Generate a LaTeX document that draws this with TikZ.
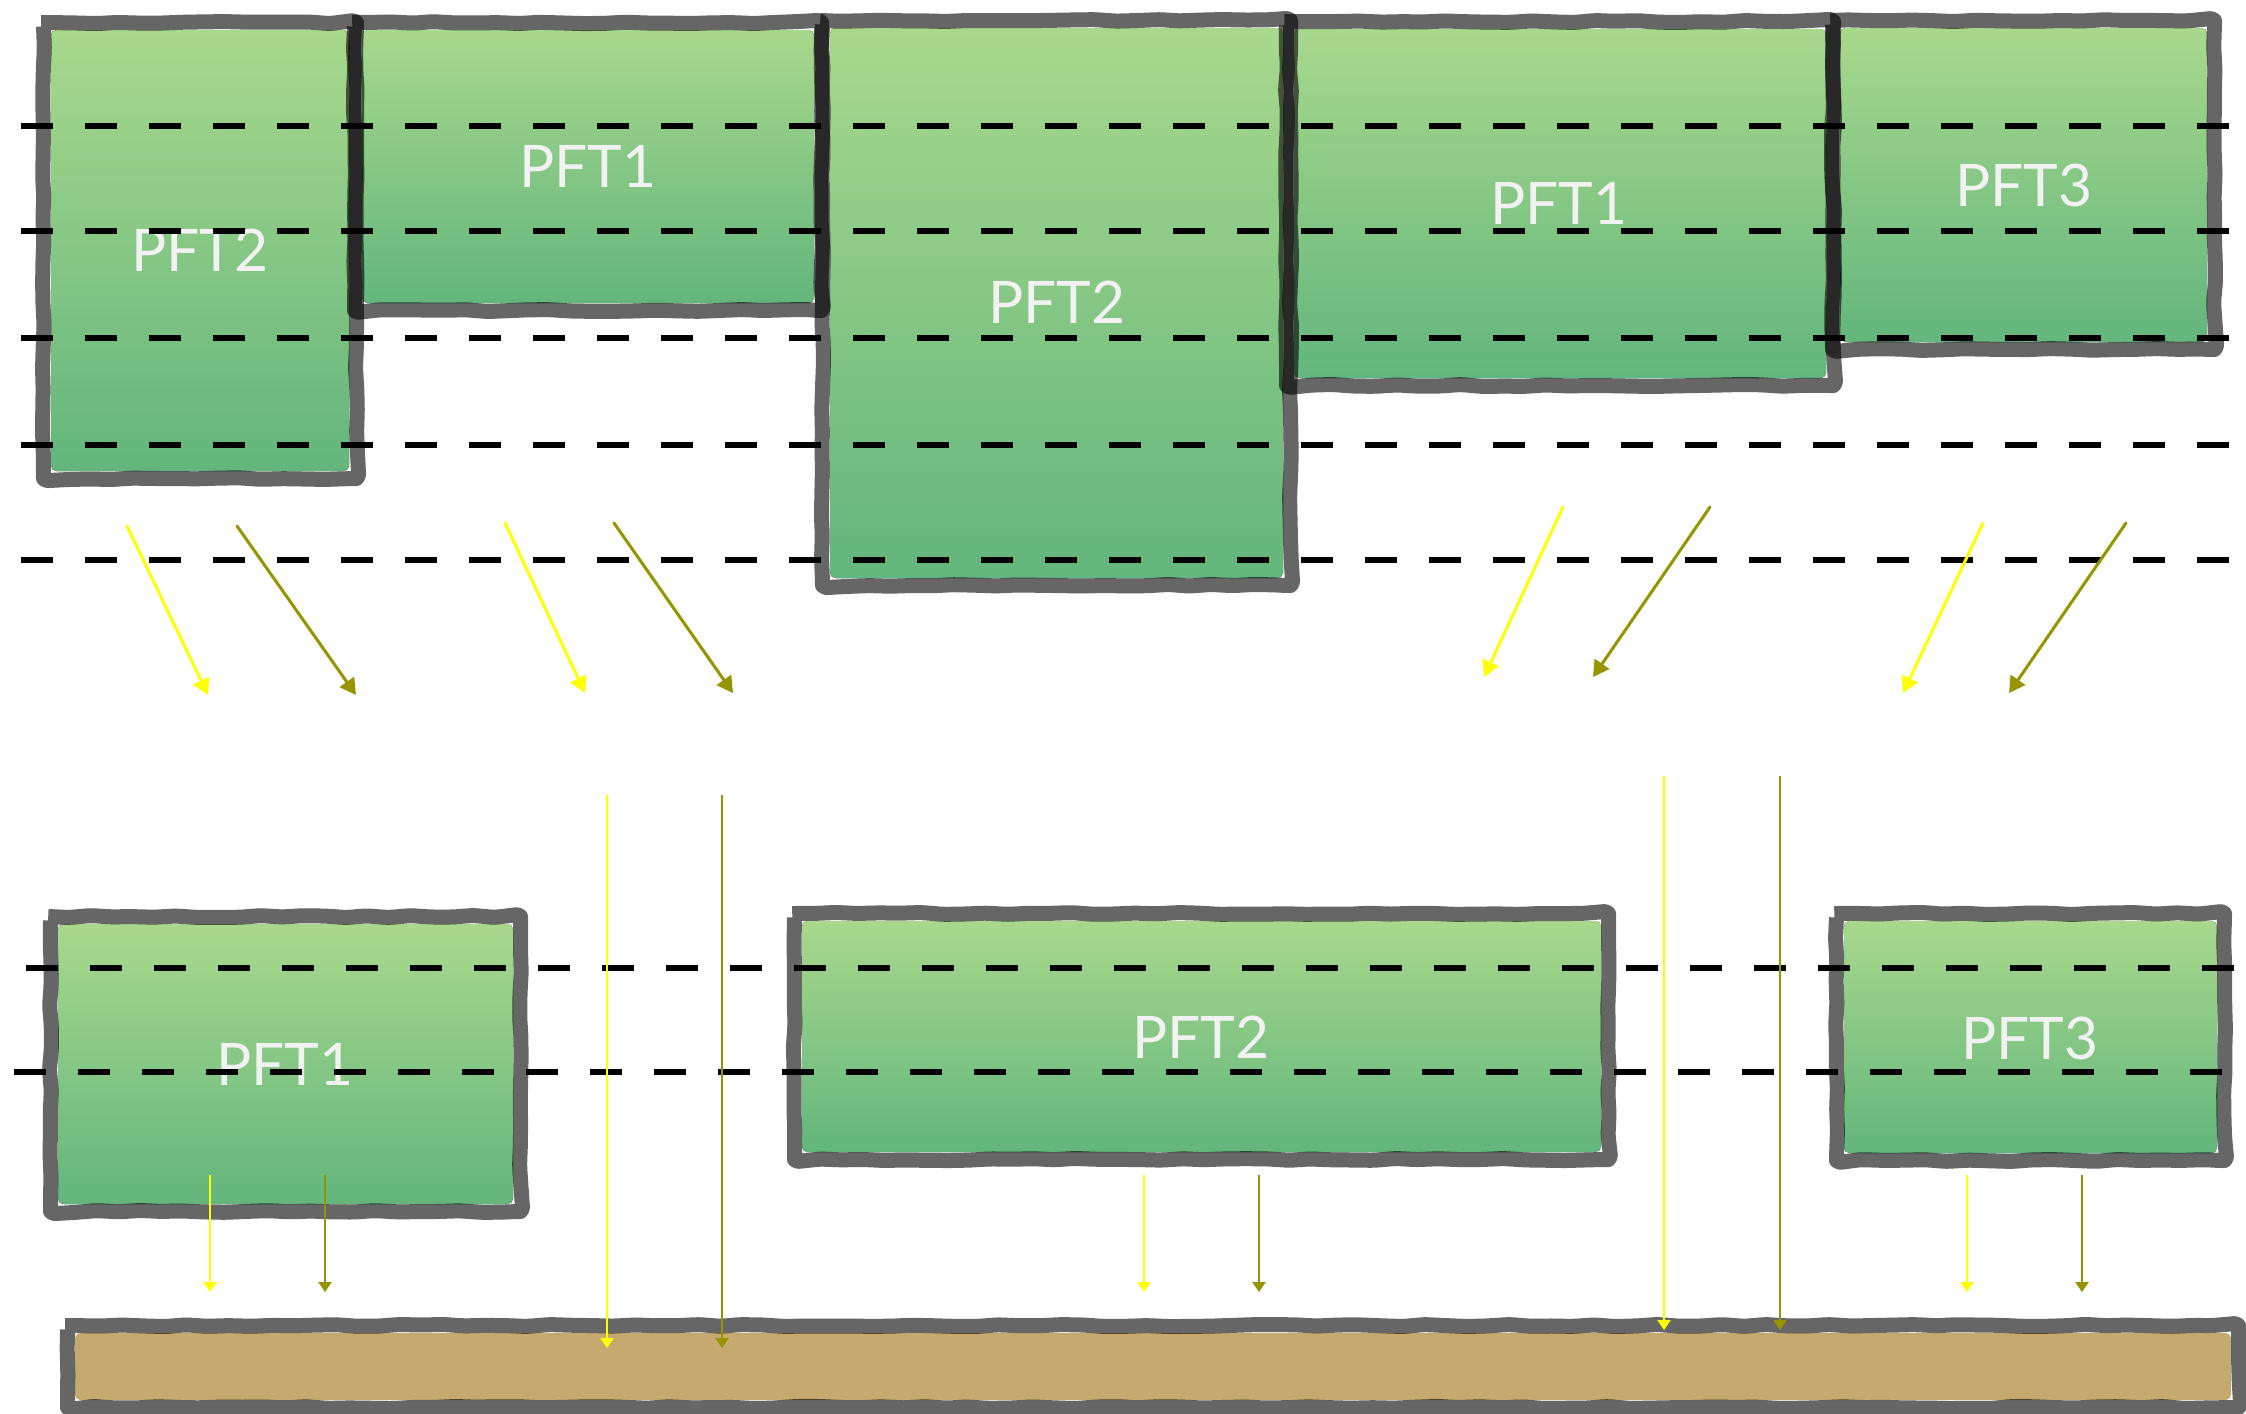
\documentclass[tikz,border=0pt]{standalone}
\usepackage{fontspec}
\usetikzlibrary{arrows.meta,decorations.pathmorphing}
\newfontfamily\pftsans{Lato}
\tikzset{every picture/.style={line width=0.75pt}}
\definecolor{leaftop}{RGB}{168,216,140}
\definecolor{leafbot}{RGB}{99,182,125}
\definecolor{soilfill}{RGB}{197,169,110}
\definecolor{lightray}{RGB}{255,255,0}
\definecolor{darkray}{RGB}{150,148,0}
\definecolor{pftwhite}{RGB}{242,242,242}

\begin{document}
\begin{tikzpicture}[x=0.75pt,y=0.75pt,yscale=-1,xscale=1,
  leaf/.style={top color=leaftop,bottom color=leafbot,draw=none,rounded corners=4pt},
  soil/.style={fill=soilfill,draw=none,rounded corners=4pt},
  rim/.style={draw=black,draw opacity=0.6,line width=11.25pt,line join=round,
    decorate,decoration={random steps,segment length=16pt,amplitude=0.8pt},rounded corners=3pt},
  pftlabel/.style={text=pftwhite,inner sep=0pt,font=\pftsans\fontsize{44}{50}\selectfont},
  layerline/.style={line width=4.2pt,dash pattern=on 24pt off 24pt},
  slantray/.style={line width=2.25pt,line cap=round,-{Triangle[length=12pt,width=13pt]}},
  dropray/.style={line width=1.1pt,-{Triangle[length=7.5pt,width=10pt]}}]
\pgfmathsetseed{4}
\useasboundingbox (0,0) rectangle (2246,1414);
\fill[white] (0,0) rectangle (2246,1414);

%Shape: Rectangle fills, upper canopy
\fill [leaf] (51,30) rectangle (349,471) ;
\fill [leaf] (362,30) rectangle (814,303) ;
\fill [leaf] (830,28) rectangle (1283,578) ;
\fill [leaf] (1294,29) rectangle (1826,378) ;
\fill [leaf] (1840,28) rectangle (2207,342) ;
%Shape: Rectangle fills, lower canopy
\fill [leaf] (58,924) rectangle (513,1204) ;
\fill [leaf] (802,921) rectangle (1601,1152) ;
\fill [leaf] (1844,921) rectangle (2217,1153) ;
%Shape: Rectangle, ground
\fill [soil] (75,1333) rectangle (2231,1400) ;

%Shape: Rims
\draw [rim] (43.5,22.5) rectangle (356.5,478.5) ;
\draw [rim] (354.5,22.5) rectangle (821.5,310.5) ;
\draw [rim] (822.5,20.5) rectangle (1290.5,585.5) ;
\draw [rim] (1286.5,21.5) rectangle (1833.5,385.5) ;
\draw [rim] (1832.5,20.5) rectangle (2214.5,349.5) ;
\draw [rim] (50.5,916.5) rectangle (520.5,1211.5) ;
\draw [rim] (794.5,913.5) rectangle (1608.5,1159.5) ;
\draw [rim] (1836.5,913.5) rectangle (2224.5,1160.5) ;
\draw [rim] (67.5,1325.5) rectangle (2238.5,1407.5) ;

% Text Node
\node (pftA) [pftlabel] at (200,250) {PFT2};
% Text Node
\node (pftB) [pftlabel] at (588,166) {PFT1};
% Text Node
\node (pftC) [pftlabel] at (1057,302) {PFT2};
% Text Node
\node (pftD) [pftlabel] at (1559,203) {PFT1};
% Text Node
\node (pftE) [pftlabel] at (2024,185) {PFT3};
% Text Node
\node (pftF) [pftlabel] at (285,1064) {PFT1};
% Text Node
\node (pftG) [pftlabel] at (1201,1037) {PFT2};
% Text Node
\node (pftH) [pftlabel] at (2030,1038) {PFT3};

%Straight Lines: layers
\draw [layerline] (21,126) -- (2232,126) ;
\draw [layerline] (21,231) -- (2232,231) ;
\draw [layerline] (21,338) -- (2232,338) ;
\draw [layerline] (21,445) -- (2232,445) ;
\draw [layerline] (21,560) -- (2232,560) ;
\draw [layerline] (26,968) -- (2236,968) ;
\draw [layerline] (14,1072) -- (2226,1072) ;

%Straight Lines: slanted rays
\coordinate (s1a) at (127,526); \coordinate (s1b) at (208,695);
\coordinate (s2a) at (237,526); \coordinate (s2b) at (356,695);
\coordinate (s3a) at (505,523); \coordinate (s3b) at (585,693);
\coordinate (s4a) at (614,523); \coordinate (s4b) at (733,693);
\coordinate (s5a) at (1563,507); \coordinate (s5b) at (1484,677);
\coordinate (s6a) at (1710,507); \coordinate (s6b) at (1593,677);
\coordinate (s7a) at (1983,523); \coordinate (s7b) at (1903,693);
\coordinate (s8a) at (2126,523); \coordinate (s8b) at (2009,693);
\draw [slantray,lightray] (s1a) -- (s1b) ;
\draw [slantray,darkray] (s2a) -- (s2b) ;
\draw [slantray,lightray] (s3a) -- (s3b) ;
\draw [slantray,darkray] (s4a) -- (s4b) ;
\draw [slantray,lightray] (s5a) -- (s5b) ;
\draw [slantray,darkray] (s6a) -- (s6b) ;
\draw [slantray,lightray] (s7a) -- (s7b) ;
\draw [slantray,darkray] (s8a) -- (s8b) ;

%Straight Lines: vertical rays
\coordinate (d1a) at (210,1175); \coordinate (d1b) at (210,1292);
\coordinate (d2a) at (325,1175); \coordinate (d2b) at (325,1292);
\coordinate (d3a) at (607,795); \coordinate (d3b) at (607,1348);
\coordinate (d4a) at (722,795); \coordinate (d4b) at (722,1348);
\coordinate (d5a) at (1144,1175); \coordinate (d5b) at (1144,1292);
\coordinate (d6a) at (1259,1175); \coordinate (d6b) at (1259,1292);
\coordinate (d7a) at (1664,776); \coordinate (d7b) at (1664,1330);
\coordinate (d8a) at (1780,776); \coordinate (d8b) at (1780,1330);
\coordinate (d9a) at (1967,1175); \coordinate (d9b) at (1967,1292);
\coordinate (d10a) at (2082,1175); \coordinate (d10b) at (2082,1292);
\draw [dropray,lightray] (d1a) -- (d1b) ;
\draw [dropray,darkray] (d2a) -- (d2b) ;
\draw [dropray,lightray] (d3a) -- (d3b) ;
\draw [dropray,darkray] (d4a) -- (d4b) ;
\draw [dropray,lightray] (d5a) -- (d5b) ;
\draw [dropray,darkray] (d6a) -- (d6b) ;
\draw [dropray,lightray] (d7a) -- (d7b) ;
\draw [dropray,darkray] (d8a) -- (d8b) ;
\draw [dropray,lightray] (d9a) -- (d9b) ;
\draw [dropray,darkray] (d10a) -- (d10b) ;
\end{tikzpicture}
\end{document}
